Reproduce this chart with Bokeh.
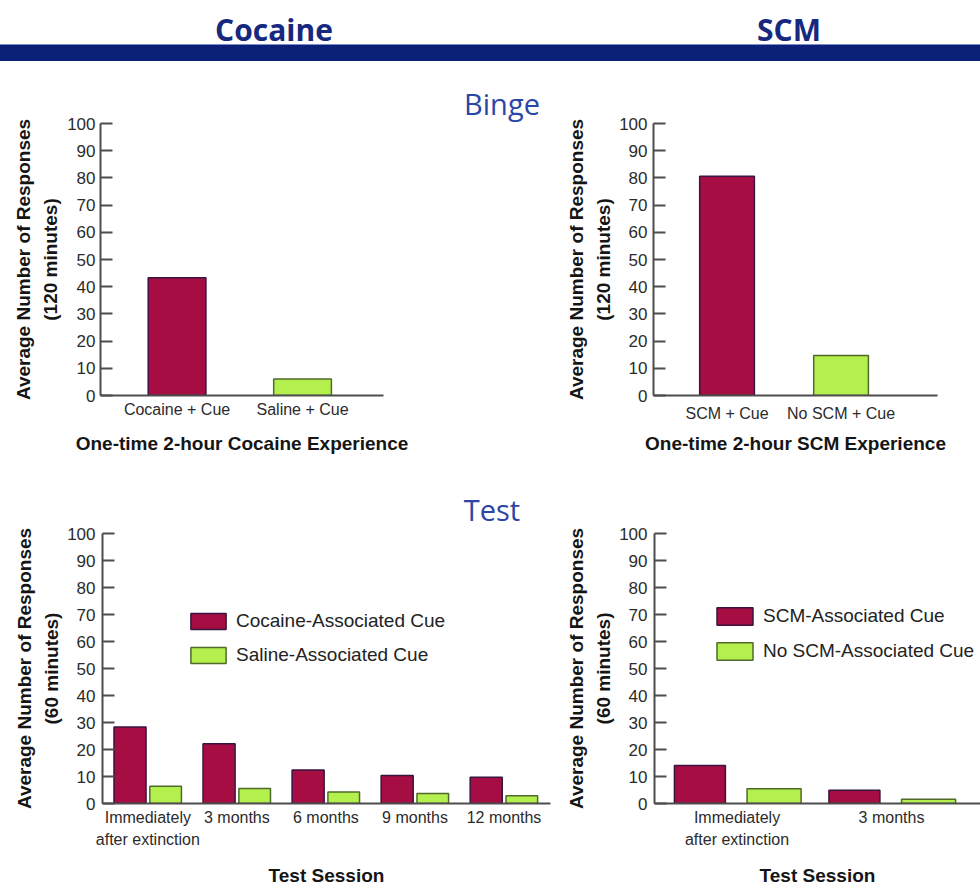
from bokeh.plotting import figure
from bokeh.layouts import column, row
from bokeh.models import (Range1d, Div, SingleIntervalTicker, FixedTicker, ColumnDataSource)
from bokeh.transform import dodge
from bokeh.embed import file_html
from bokeh.resources import INLINE

# ---------------- data ----------------
binge_cocaine_groups = ["Cocaine + Cue", "Saline + Cue"]
binge_cocaine_values = [43.3, 6.1]

binge_scm_groups = ["SCM + Cue", "No SCM + Cue"]
binge_scm_values = [80.6, 14.7]

test_cocaine_sessions = ["Immediately\nafter extinction", "3 months", "6 months", "9 months", "12 months"]
test_cocaine_assoc = [28.3, 22.1, 12.4, 10.4, 9.7]
test_saline_assoc = [6.4, 5.6, 4.3, 3.7, 2.9]

test_scm_sessions = ["Immediately\nafter extinction", "3 months"]
test_scm_assoc = [14.1, 4.9]
test_no_scm_assoc = [5.5, 1.6]

# ---------------- style ----------------
RED = "#a60d43"
RED_LINE = "#3a1440"
GREEN = "#b3ef4d"
GREEN_LINE = "#4f6a2a"
AXIS = "#4d4d4d"
NAVY = "#17297f"
BLUE_TXT = "#2c46a6"
BAR = "#0b2177"
FONT = "Liberation Sans"


def chart(width, height, left, right, top, bottom, xr, cats, ylabel, xlabel,
          xlab_standoff, xtitle_standoff, ylab_standoff, ytitle_standoff):
    p = figure(width=width, height=height, x_range=Range1d(*xr), y_range=Range1d(0, 100),
               toolbar_location=None, output_backend="svg",
               min_border_left=left, min_border_right=right,
               min_border_top=top, min_border_bottom=bottom)
    p.outline_line_color = None
    p.grid.visible = False
    for ax in (p.xaxis[0], p.yaxis[0]):
        ax.axis_line_color = AXIS
        ax.axis_line_width = 2
        ax.major_label_text_font = FONT
        ax.major_label_text_font_size = "16px"
        ax.major_label_text_color = "#2b2b2b"
        ax.axis_label_text_font = FONT
        ax.axis_label_text_font_style = "bold"
        ax.axis_label_text_font_size = "19px"
        ax.axis_label_text_color = "#151515"
        ax.minor_tick_in = 0
        ax.minor_tick_out = 0
    y = p.yaxis[0]
    y.ticker = SingleIntervalTicker(interval=10, num_minor_ticks=0)
    y.major_label_text_font_size = "17px"
    y.major_tick_in = 12
    y.major_tick_out = 0
    y.major_tick_line_color = AXIS
    y.major_tick_line_width = 2
    y.major_label_standoff = ylab_standoff
    y.axis_label = ylabel
    y.axis_label_standoff = ytitle_standoff
    y.axis_label_text_line_height = 1.3
    x = p.xaxis[0]
    x.ticker = FixedTicker(ticks=list(range(len(cats))))
    x.major_label_overrides = {i: c for i, c in enumerate(cats)}
    x.major_tick_in = 0
    x.major_tick_out = 0
    x.major_label_standoff = xlab_standoff
    x.major_label_text_line_height = 1.3
    x.axis_label = xlabel
    x.axis_label_standoff = xtitle_standoff
    return p


def style_legend(p, loc, gw, gh, spacing, size):
    lg = p.legend[0]
    lg.location = loc
    lg.padding = 0
    lg.margin = 0
    lg.border_line_color = None
    lg.background_fill_alpha = 0
    lg.glyph_width = gw
    lg.glyph_height = gh
    lg.label_height = gh
    lg.label_standoff = 6
    lg.spacing = spacing
    lg.label_text_font = FONT
    lg.label_text_font_size = size
    lg.label_text_color = "#222222"


def heading(text, left, top, width, size, color, bold=False):
    weight = "bold" if bold else "normal"
    return (f'<div style="position:absolute;left:{left}px;top:{top}px;width:{width}px;'
            f'text-align:center;font-family:\'Open Sans\';font-weight:{weight};'
            f'font-size:{size}px;line-height:{size}px;color:{color};white-space:nowrap">{text}</div>')


# ---------------- header ----------------
hdr = Div(width=980, height=88, margin=0, text=(
    '<div style="position:relative;width:980px;height:88px;overflow:hidden">'
    f'<div style="position:absolute;left:0;top:44px;width:980px;height:1px;background:#7d8cc8"></div>'
    f'<div style="position:absolute;left:0;top:45px;width:980px;height:16px;background:{BAR}"></div>'
    + heading("Cocaine", 174, 15, 200, 30, NAVY, True)
    + heading("SCM", 689, 15, 200, 30, NAVY, True)
    + '</div>'))

# ---------------- Binge row ----------------
p1 = chart(444, 372, 100, 61, 35, 65, (-0.61, 1.645), binge_cocaine_groups,
           "Average Number of Responses\n(120 minutes)", "One-time 2-hour Cocaine Experience",
           5, 12, 5, 3)
src1 = ColumnDataSource(dict(idx=list(range(len(binge_cocaine_groups))), val=binge_cocaine_values,
                             fill=[RED, GREEN], line=[RED_LINE, GREEN_LINE]))
p1.vbar(x="idx", top="val", bottom=0, width=0.46, source=src1, fill_color="fill",
        line_color="line", line_width=1.5)

binge = Div(width=116, height=372, margin=0, text=(
    '<div style="position:relative;width:116px;height:372px">'
    + heading("Binge", 0, 1, 116, 29, BLUE_TXT) + '</div>'))

p2 = chart(420, 372, 93, 43, 35, 65, (-0.645, 1.846), binge_scm_groups,
           "Average Number of Responses\n(120 minutes)", "One-time 2-hour SCM Experience",
           9, 8, 6, 2)
src2 = ColumnDataSource(dict(idx=list(range(len(binge_scm_groups))), val=binge_scm_values,
                             fill=[RED, GREEN], line=[RED_LINE, GREEN_LINE]))
p2.vbar(x="idx", top="val", bottom=0, width=0.48, source=src2, fill_color="fill",
        line_color="line", line_width=1.5)

# ---------------- Test title ----------------
testdiv = Div(width=980, height=65, margin=0, text=(
    '<div style="position:relative;width:980px;height:65px">'
    + heading("Test", 392, 35, 200, 29, BLUE_TXT) + '</div>'))

# ---------------- Test row ----------------
p3 = chart(560, 363, 102, 10, 8, 83, (-0.509, 4.522), test_cocaine_sessions,
           "Average Number of Responses\n(60 minutes)", "Test Session", 5, 14, 7, 2)
src3 = ColumnDataSource(dict(idx=list(range(len(test_cocaine_sessions))),
                             a=test_cocaine_assoc, b=test_saline_assoc))
p3.vbar(x=dodge("idx", -0.2), top="a", bottom=0, width=0.36, source=src3, fill_color=RED,
        line_color=RED_LINE, line_width=1.5, legend_label="Cocaine-Associated Cue")
p3.vbar(x=dodge("idx", 0.2), top="b", bottom=0, width=0.355, source=src3, fill_color=GREEN,
        line_color=GREEN_LINE, line_width=1.5, legend_label="Saline-Associated Cue")
style_legend(p3, (84, 137), 44, 20, 12, "19px")

p4 = chart(420, 363, 94, 0, 8, 83, (-0.534, 1.576), test_scm_sessions,
           "Average Number of Responses\n(60 minutes)", "Test Session", 5, 14, 7, 2)
src4 = ColumnDataSource(dict(idx=list(range(len(test_scm_sessions))),
                             a=test_scm_assoc, b=test_no_scm_assoc))
p4.vbar(x=dodge("idx", -0.24), top="a", bottom=0, width=0.33, source=src4, fill_color=RED,
        line_color=RED_LINE, line_width=1.5, legend_label="SCM-Associated Cue")
p4.vbar(x=dodge("idx", 0.24), top="b", bottom=0, width=0.35, source=src4, fill_color=GREEN,
        line_color=GREEN_LINE, line_width=1.5, legend_label="No SCM-Associated Cue")
style_legend(p4, (58, 141), 45, 22, 13, "19px")

layout = column(hdr, row(p1, binge, p2), testdiv, row(p3, p4))

open("out.html", "w").write(file_html(layout, INLINE))
